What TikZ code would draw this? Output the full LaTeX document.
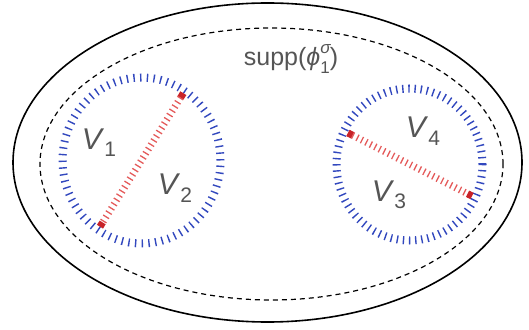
\documentclass[tikz,border=0pt]{standalone}
\usepackage{fontspec}
\setmainfont{Liberation Sans}
\usepackage{tikz}
\usetikzlibrary{calc,positioning}
\definecolor{tickblue}{RGB}{50,72,190}
\definecolor{tickred}{RGB}{228,90,90}
\definecolor{endred}{RGB}{200,35,40}
\definecolor{labgray}{RGB}{85,85,85}
\tikzset{
  ring/.style={tickblue,line width=8pt,dash pattern=on 1.4pt off #1},
  cutline/.style={tickred,line width=7pt,dash pattern=on 1.3pt off 3.7pt},
  endmark/.style={endred,line width=7pt},
  vlabel/.style={labgray,font=\fontsize{30}{34}\selectfont},
}
\newcommand{\Vlab}[1]{\textit{V}\raisebox{-0.25em}{\fontsize{21}{24}\selectfont #1}}

\begin{document}
\begin{tikzpicture}[x=1pt,y=1pt]
  \useasboundingbox (0,0) rectangle (529,329);
  \draw[line width=1.6pt] (267.5,166.5) ellipse (254.5 and 159.5);
  \draw[line width=1.2pt,dash pattern=on 5pt off 4pt] (271.5,165) ellipse (231.5 and 136);
  \node[labgray,font=\fontsize{25}{28}\selectfont] (supp) at (291,270)
    {supp(\textit{ϕ}\rlap{\raisebox{0.5em}{\fontsize{17}{18}\selectfont\textit{σ}}}\raisebox{-0.3em}{\fontsize{17}{18}\selectfont 1})};
  % left component
  \coordinate (c1) at (141.5,168.5);
  \draw[ring=5.3pt] (c1) ellipse (79 and 83);
  \coordinate (p1) at (183.3,235.7);
  \coordinate (q1) at (100,102.3);
  \draw[cutline] (p1) -- (q1);
  \draw[endmark] (p1) -- ($(p1)!5pt!(q1)$);
  \draw[endmark] (q1) -- ($(q1)!5pt!(p1)$);
  \node[vlabel] (v1) at (99,186.5) {\Vlab{1}};
  \node[vlabel] (v2) at (175,141) {\Vlab{2}};
  % right component
  \coordinate (c2) at (409.5,164.5);
  \draw[ring=4.75pt] (c2) ellipse (73 and 76);
  \coordinate (p2) at (348,196);
  \coordinate (q2) at (472,133);
  \draw[cutline] (p2) -- (q2);
  \draw[endmark] (p2) -- ($(p2)!5pt!(q2)$);
  \draw[endmark] (q2) -- ($(q2)!5pt!(p2)$);
  \node[vlabel] (v4) at (423,198) {\Vlab{4}};
  \node[vlabel] (v3) at (389,134) {\Vlab{3}};
\end{tikzpicture}
\end{document}
